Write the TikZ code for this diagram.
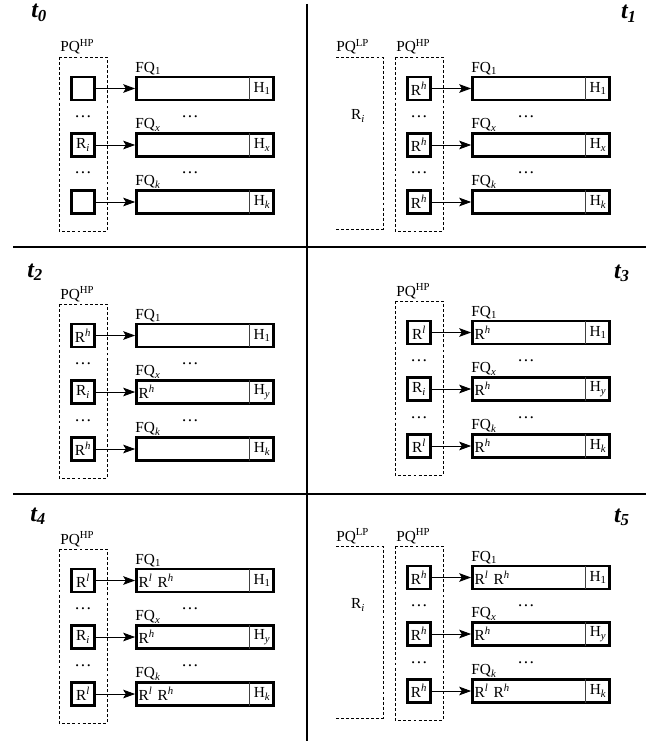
\documentclass[tikz,border=0pt]{standalone}
\usepackage{fontspec}
\setmainfont{Liberation Serif}
\usetikzlibrary{arrows.meta}

\begin{document}
\begin{tikzpicture}[x=0.75pt,y=0.75pt,yscale=-1,xscale=1,
  every node/.style={font=\fontsize{11.5}{13}\selectfont},
  req/.style={draw, line width=1.8pt, minimum width=17.5pt, minimum height=17pt, inner sep=0pt},
  fqbox/.style={draw, line width=1.8pt, minimum height=17pt, text width=99.5pt, inner xsep=1.75pt, inner ysep=0pt, align=left},
  hcell/.style={anchor=east, minimum width=18.75pt, minimum height=17pt, inner sep=0pt},
  hdiv/.style={draw=black!75, line width=1pt},
  link/.style={line width=0.7pt, -{Stealth[length=9pt,width=6.5pt,inset=2pt]}},
  pqline/.style={line width=0.65pt, dash pattern=on 2.2pt off 1.6pt},
  pqname/.style={anchor=base west, inner sep=0pt},
  fqname/.style={anchor=south west, inner xsep=0pt, inner ysep=0.8pt},
  ellip/.style={anchor=base, inner sep=0pt, font=\fontsize{13}{13}\selectfont},
  tname/.style={inner sep=0pt, font=\fontsize{18}{20}\selectfont\bfseries\itshape},
  divline/.style={line width=1.5pt}
]
\useasboundingbox (0,0) rectangle (656,745);

%Straight Lines
\draw[divline] (307,4) -- (307,741);
\draw[divline] (13,247) -- (646,247);
\draw[divline] (13,494) -- (646,494);

% Text Node
\node[tname, anchor=base west] (t0) at (31,18) {t\textsubscript{0}};
\node[tname, anchor=base east] (t1) at (637,19) {t\textsubscript{1}};
\node[tname, anchor=base west] (t2) at (27,277) {t\textsubscript{2}};
\node[tname, anchor=base east] (t3) at (630,278) {t\textsubscript{3}};
\node[tname, anchor=base west] (t4) at (30,521) {t\textsubscript{4}};
\node[tname, anchor=base east] (t5) at (630,522) {t\textsubscript{5}};

%Panel t0
\begin{scope}[shift={(0,0)}]
\draw[pqline] (59,57) rectangle (107,231);
\node[pqname] (hp0) at (60,52) {PQ\textsuperscript{HP}};
\foreach \i/\y/\rtxt/\ftxt/\qsub/\hsub in {1/88.5/{}/{}/1/1, 2/145/{R\textsubscript{\textit{i}}}/{}/{\textit{x}}/{\textit{x}}, 3/202/{}/{}/{\textit{k}}/{\textit{k}}}{
  \node[req] (r0\i) at (83,\y) {\rtxt};
  \node[fqbox] (f0\i) at (205,\y) {\ftxt};
  \node[hcell] (h0\i) at (f0\i.east) {H\textsubscript{\hsub}};
  \draw[hdiv] (h0\i.north west) -- (h0\i.south west);
  \node[fqname] (q0\i) at (f0\i.north west) {FQ\textsubscript{\qsub}};
  \draw[link] (r0\i) -- (f0\i);
}
\node[ellip] (dp0a) at (83,117.5) {\dots};
\node[ellip] (dp0b) at (83,174) {\dots};
\node[ellip] (df0a) at (190,117.5) {\dots};
\node[ellip] (df0b) at (190,174) {\dots};
\end{scope}

%Panel t1
\begin{scope}[shift={(336,0)}]
\draw[pqline] (0,57) -- (47,57) -- (47,229) -- (0,229);
\node[pqname] (lp1) at (0,52) {PQ\textsuperscript{LP}};
\node (ri1) at (22,116) {R\textsubscript{\textit{i}}};
\draw[pqline] (59,57) rectangle (107,231);
\node[pqname] (hp1) at (60,52) {PQ\textsuperscript{HP}};
\foreach \i/\y/\rtxt/\ftxt/\qsub/\hsub in {1/88.5/{R\textsuperscript{\textit{h}}}/{}/1/1, 2/145/{R\textsuperscript{\textit{h}}}/{}/{\textit{x}}/{\textit{x}}, 3/202/{R\textsuperscript{\textit{h}}}/{}/{\textit{k}}/{\textit{k}}}{
  \node[req] (r1\i) at (83,\y) {\rtxt};
  \node[fqbox] (f1\i) at (205,\y) {\ftxt};
  \node[hcell] (h1\i) at (f1\i.east) {H\textsubscript{\hsub}};
  \draw[hdiv] (h1\i.north west) -- (h1\i.south west);
  \node[fqname] (q1\i) at (f1\i.north west) {FQ\textsubscript{\qsub}};
  \draw[link] (r1\i) -- (f1\i);
}
\node[ellip] (dp1a) at (83,117.5) {\dots};
\node[ellip] (dp1b) at (83,174) {\dots};
\node[ellip] (df1a) at (190,117.5) {\dots};
\node[ellip] (df1b) at (190,174) {\dots};
\end{scope}

%Panel t2
\begin{scope}[shift={(0,247)}]
\draw[pqline] (59,57) rectangle (107,231);
\node[pqname] (hp2) at (60,52) {PQ\textsuperscript{HP}};
\foreach \i/\y/\rtxt/\ftxt/\qsub/\hsub in {1/88.5/{R\textsuperscript{\textit{h}}}/{}/1/1, 2/145/{R\textsubscript{\textit{i}}}/{R\textsuperscript{\textit{h}}}/{\textit{x}}/{\textit{y}}, 3/202/{R\textsuperscript{\textit{h}}}/{}/{\textit{k}}/{\textit{k}}}{
  \node[req] (r2\i) at (83,\y) {\rtxt};
  \node[fqbox] (f2\i) at (205,\y) {\ftxt};
  \node[hcell] (h2\i) at (f2\i.east) {H\textsubscript{\hsub}};
  \draw[hdiv] (h2\i.north west) -- (h2\i.south west);
  \node[fqname] (q2\i) at (f2\i.north west) {FQ\textsubscript{\qsub}};
  \draw[link] (r2\i) -- (f2\i);
}
\node[ellip] (dp2a) at (83,117.5) {\dots};
\node[ellip] (dp2b) at (83,174) {\dots};
\node[ellip] (df2a) at (190,117.5) {\dots};
\node[ellip] (df2b) at (190,174) {\dots};
\end{scope}

%Panel t3
\begin{scope}[shift={(336,244)}]
\draw[pqline] (59,57) rectangle (107,231);
\node[pqname] (hp3) at (60,52) {PQ\textsuperscript{HP}};
\foreach \i/\y/\rtxt/\ftxt/\qsub/\hsub in {1/88.5/{R\textsuperscript{\textit{l}}}/{R\textsuperscript{\textit{h}}}/1/1, 2/145/{R\textsubscript{\textit{i}}}/{R\textsuperscript{\textit{h}}}/{\textit{x}}/{\textit{y}}, 3/202/{R\textsuperscript{\textit{l}}}/{R\textsuperscript{\textit{h}}}/{\textit{k}}/{\textit{k}}}{
  \node[req] (r3\i) at (83,\y) {\rtxt};
  \node[fqbox] (f3\i) at (205,\y) {\ftxt};
  \node[hcell] (h3\i) at (f3\i.east) {H\textsubscript{\hsub}};
  \draw[hdiv] (h3\i.north west) -- (h3\i.south west);
  \node[fqname] (q3\i) at (f3\i.north west) {FQ\textsubscript{\qsub}};
  \draw[link] (r3\i) -- (f3\i);
}
\node[ellip] (dp3a) at (83,117.5) {\dots};
\node[ellip] (dp3b) at (83,174) {\dots};
\node[ellip] (df3a) at (190,117.5) {\dots};
\node[ellip] (df3b) at (190,174) {\dots};
\end{scope}

%Panel t4
\begin{scope}[shift={(0,492)}]
\draw[pqline] (59,57) rectangle (107,231);
\node[pqname] (hp4) at (60,52) {PQ\textsuperscript{HP}};
\foreach \i/\y/\rtxt/\ftxt/\qsub/\hsub in {1/88.5/{R\textsuperscript{\textit{l}}}/{R\textsuperscript{\textit{l}} R\textsuperscript{\textit{h}}}/1/1, 2/145/{R\textsubscript{\textit{i}}}/{R\textsuperscript{\textit{h}}}/{\textit{x}}/{\textit{y}}, 3/202/{R\textsuperscript{\textit{l}}}/{R\textsuperscript{\textit{l}} R\textsuperscript{\textit{h}}}/{\textit{k}}/{\textit{k}}}{
  \node[req] (r4\i) at (83,\y) {\rtxt};
  \node[fqbox] (f4\i) at (205,\y) {\ftxt};
  \node[hcell] (h4\i) at (f4\i.east) {H\textsubscript{\hsub}};
  \draw[hdiv] (h4\i.north west) -- (h4\i.south west);
  \node[fqname] (q4\i) at (f4\i.north west) {FQ\textsubscript{\qsub}};
  \draw[link] (r4\i) -- (f4\i);
}
\node[ellip] (dp4a) at (83,117.5) {\dots};
\node[ellip] (dp4b) at (83,174) {\dots};
\node[ellip] (df4a) at (190,117.5) {\dots};
\node[ellip] (df4b) at (190,174) {\dots};
\end{scope}

%Panel t5
\begin{scope}[shift={(336,489)}]
\draw[pqline] (0,57) -- (47,57) -- (47,229) -- (0,229);
\node[pqname] (lp5) at (0,52) {PQ\textsuperscript{LP}};
\node (ri5) at (22,116) {R\textsubscript{\textit{i}}};
\draw[pqline] (59,57) rectangle (107,231);
\node[pqname] (hp5) at (60,52) {PQ\textsuperscript{HP}};
\foreach \i/\y/\rtxt/\ftxt/\qsub/\hsub in {1/88.5/{R\textsuperscript{\textit{h}}}/{R\textsuperscript{\textit{l}} R\textsuperscript{\textit{h}}}/1/1, 2/145/{R\textsuperscript{\textit{h}}}/{R\textsuperscript{\textit{h}}}/{\textit{x}}/{\textit{y}}, 3/202/{R\textsuperscript{\textit{h}}}/{R\textsuperscript{\textit{l}} R\textsuperscript{\textit{h}}}/{\textit{k}}/{\textit{k}}}{
  \node[req] (r5\i) at (83,\y) {\rtxt};
  \node[fqbox] (f5\i) at (205,\y) {\ftxt};
  \node[hcell] (h5\i) at (f5\i.east) {H\textsubscript{\hsub}};
  \draw[hdiv] (h5\i.north west) -- (h5\i.south west);
  \node[fqname] (q5\i) at (f5\i.north west) {FQ\textsubscript{\qsub}};
  \draw[link] (r5\i) -- (f5\i);
}
\node[ellip] (dp5a) at (83,117.5) {\dots};
\node[ellip] (dp5b) at (83,174) {\dots};
\node[ellip] (df5a) at (190,117.5) {\dots};
\node[ellip] (df5b) at (190,174) {\dots};
\end{scope}

\end{tikzpicture}
\end{document}
